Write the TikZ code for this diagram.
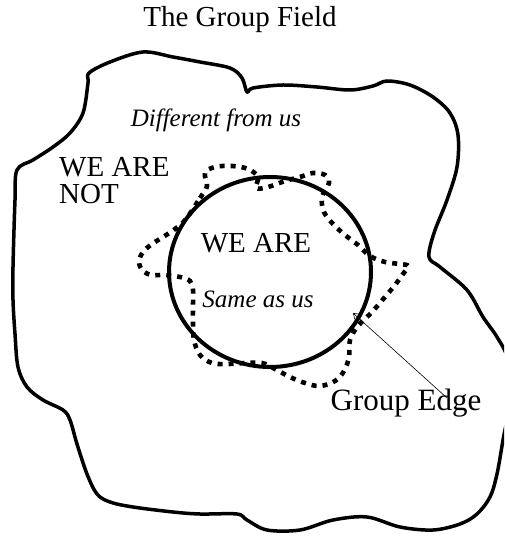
\documentclass[tikz,border=0pt]{standalone}
\usepackage{fontspec}
\setmainfont{Liberation Serif}
\usetikzlibrary{arrows.meta,shapes.geometric}
\tikzset{
  blob/.style={line width=3.5pt, line join=round, line cap=round},
  ring/.style={line width=4pt},
  dotted edge/.style={line width=4.6pt, dash pattern=on 5pt off 6pt},
  lab/.style={inner sep=0pt, font=\fontsize{29}{27}\selectfont},
  itlab/.style={inner sep=0pt, font=\fontsize{25}{25}\selectfont\itshape},
  leader/.style={line width=0.6pt}
}
\begin{document}
\begin{tikzpicture}[x=1pt,y=-1pt]
\useasboundingbox (0,0) rectangle (504,537);
\clip (0,0) rectangle (504,537);
% outer field
\draw[blob] plot[smooth cycle, tension=0.55] coordinates {
(89,73) (110,62) (143,52) (173,57) (200,62) (230,68) (242,78) (247,92) (253,88) (283,85) (317,87) (350,90) (373,86) (387,81) (410,85) (433,97) (450,113) (458,135) (457,167) (447,200) (434,233) (429,257) (440,267) (467,290) (483,317) (497,337) (508,360) (510,400) (503,440) (497,474) (490,497) (477,514) (460,524) (433,530) (400,527) (367,517) (333,520) (300,530) (267,530) (247,520) (237,514) (200,514) (173,512) (133,507) (110,502) (97,494) (87,474) (77,444) (70,420) (63,410) (43,400) (27,387) (18,367) (15,334) (13,300) (13,267) (15,200) (17,170) (33,160) (53,147) (70,133) (83,113) (88,83)};
% group circle
\node[ring, draw, ellipse, minimum width=202pt, minimum height=190pt, inner sep=0pt] (grp) at (270,272) {};
% dotted group edge
\draw[dotted edge] plot[smooth cycle, tension=0.6] coordinates {
(186,219) (200,198) (207,186) (205,173) (215,167) (232,166) (248,169) (258,177) (256,188) (268,187) (285,181) (300,177) (313,173) (325,175) (329,183) (322,197) (324,212) (333,224) (345,235) (358,245) (370,256) (385,262) (400,264) (408,266) (403,274) (395,285) (385,297) (372,312) (358,326) (350,340) (349,357) (344,371) (335,381) (320,386) (305,383) (290,377) (275,369) (262,363) (245,363) (228,364) (212,363) (200,355) (194,340) (193,322) (193,305) (193,290) (190,281) (180,277) (165,275) (152,275) (143,271) (139,262) (143,252) (152,244) (163,237) (175,229)};
% texts
\node[lab, anchor=base] (title) at (240,27) {The Group Field};
\node[itlab, anchor=base] (diff) at (216,127) {Different from us};
\node[lab, anchor=north west, align=left] (wenot) at (59,157) {WE ARE\\NOT};
\node[lab, anchor=base] (weare) at (256,252) {WE ARE};
\node[itlab, anchor=base] (same) at (258,307) {Same as us};
\node[lab, anchor=base, font=\fontsize{31}{31}\selectfont] (gedge) at (406,410) {Group Edge};
\coordinate (onedge) at (353,313);
\coordinate (lblend) at (447,398);
\draw[leader, {Straight Barb[length=5pt,width=7pt,line width=0.6pt]}-] (onedge) -- (lblend);
\end{tikzpicture}
\end{document}
